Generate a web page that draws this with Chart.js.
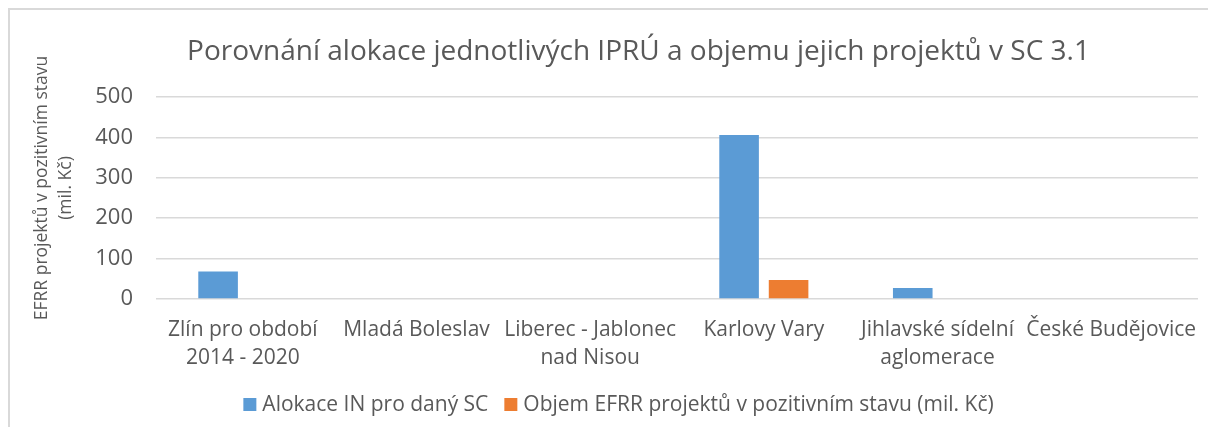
<!DOCTYPE html>
<html>
<head>
<meta charset="utf-8">
<script src="https://cdn.jsdelivr.net/npm/chart.js@4/dist/chart.umd.min.js"></script>
<style>
  html, body { margin: 0; padding: 0; background: #fff; }
  #wrap { position: relative; width: 1208px; height: 427px; overflow: hidden; }
  #frame { position: absolute; left: 8px; top: 8px; width: 1300px; height: 500px;
           border-left: 2px solid #d9d9d9; border-top: 2px solid #d9d9d9; box-sizing: border-box; }
  #c { position: absolute; left: 0; top: 0; }
</style>
</head>
<body>
<div id="wrap">
  <div id="frame"></div>
  <canvas id="c" width="1208" height="427"></canvas>
</div>
<script>
// Integrated urban development plans (IPRÚ) compared in specific objective 3.1
const categories = [
  ['Zlín pro období', '2014 - 2020'],
  'Mladá Boleslav',
  ['Liberec - Jablonec', 'nad Nisou'],
  'Karlovy Vary',
  ['Jihlavské sídelní', 'aglomerace'],
  'České Budějovice'
];
const allocation = [68, 0, 0, 406, 27, 0];
const projectVolume = [0, 0, 0, 47, 0, 0];
const yTicks = [0, 100, 200, 300, 400, 500];

const seriesNames = ['Alokace IN pro daný SC', 'Objem EFRR projektů v pozitivním stavu (mil. Kč)'];
const seriesColors = ['#5b9bd5', '#ed7d31'];
const chartTitle = 'Porovnání alokace jednotlivých IPRÚ a objemu jejich projektů v SC 3.1';
const yTitle = ['EFRR projektů v pozitivním stavu', '(mil. Kč)'];

const textColor = '#595959';
const gridColor = '#d9d9d9';
const fontFamily = '"Open Sans", Lato, sans-serif';

Chart.defaults.font.family = fontFamily;
Chart.defaults.color = textColor;

// Chart heading, centred over the whole frame
const headingPlugin = {
  id: 'heading',
  afterDraw(chart) {
    const ctx = chart.ctx;
    ctx.save();
    ctx.fillStyle = textColor;
    ctx.font = '28px ' + fontFamily;
    ctx.textAlign = 'center';
    ctx.textBaseline = 'middle';
    ctx.fillText(chartTitle, 638.5, 52);
    ctx.restore();
  }
};

// Rotated two-line axis title on the left
const yTitlePlugin = {
  id: 'yTitle',
  afterDraw(chart) {
    const ctx = chart.ctx;
    ctx.save();
    ctx.translate(0, 188);
    ctx.rotate(-Math.PI / 2);
    ctx.fillStyle = textColor;
    ctx.font = '17.5px ' + fontFamily;
    ctx.textAlign = 'center';
    ctx.textBaseline = 'middle';
    ctx.fillText(yTitle[0], 0, 42);
    ctx.fillText(yTitle[1], 0, 66);
    ctx.restore();
  }
};

// Legend row under the axis labels, built from the datasets
const legendRowPlugin = {
  id: 'legendRow',
  afterDraw(chart) {
    const ctx = chart.ctx;
    const box = 13, gapText = 6, gapItem = 16, cy = 404.5, centerX = 618.5;
    ctx.save();
    ctx.font = '21px ' + fontFamily;
    ctx.textBaseline = 'middle';
    ctx.textAlign = 'left';
    const items = chart.data.datasets.map(ds => ({
      text: ds.label, color: ds.backgroundColor, w: ctx.measureText(ds.label).width
    }));
    const total = items.reduce((s, it) => s + box + gapText + it.w, 0) + gapItem * (items.length - 1);
    let x = centerX - total / 2;
    items.forEach(it => {
      ctx.fillStyle = it.color;
      ctx.fillRect(x, cy - box / 2, box, box);
      x += box + gapText;
      ctx.fillStyle = textColor;
      ctx.fillText(it.text, x, cy + 1);
      x += it.w + gapItem;
    });
    ctx.restore();
  }
};

new Chart(document.getElementById('c'), {
  type: 'bar',
  data: {
    labels: categories,
    datasets: [
      { label: seriesNames[0], data: allocation, backgroundColor: seriesColors[0],
        categoryPercentage: 0.57, barPercentage: 0.8 },
      { label: seriesNames[1], data: projectVolume, backgroundColor: seriesColors[1],
        categoryPercentage: 0.57, barPercentage: 0.8 }
    ]
  },
  options: {
    responsive: false,
    animation: false,
    layout: { padding: { left: 0, right: 10, top: 97, bottom: 0 } },
    plugins: {
      title: { display: false },
      legend: { display: false },
      tooltip: { enabled: false }
    },
    scales: {
      x: {
        afterFit(scale) {
          scale.height = 128;
          scale.paddingLeft = 0;
          scale.paddingRight = 0;
        },
        grid: { display: false, drawTicks: false },
        border: { display: false },
        ticks: { color: textColor, font: { size: 21, lineHeight: 1.33 }, padding: 17,
                 maxRotation: 0, autoSkip: false }
      },
      y: {
        min: 0, max: 500,
        afterFit(scale) {
          scale.width = 156;
          scale.paddingTop = 0;
          scale.paddingBottom = 0;
        },
        afterBuildTicks(scale) { scale.ticks = yTicks.map(v => ({ value: v })); },
        grid: { color: gridColor, lineWidth: 1.5, drawTicks: false },
        border: { display: false },
        ticks: { color: textColor, font: { size: 22 }, padding: 23 }
      }
    }
  },
  plugins: [headingPlugin, yTitlePlugin, legendRowPlugin]
});
</script>
</body>
</html>
